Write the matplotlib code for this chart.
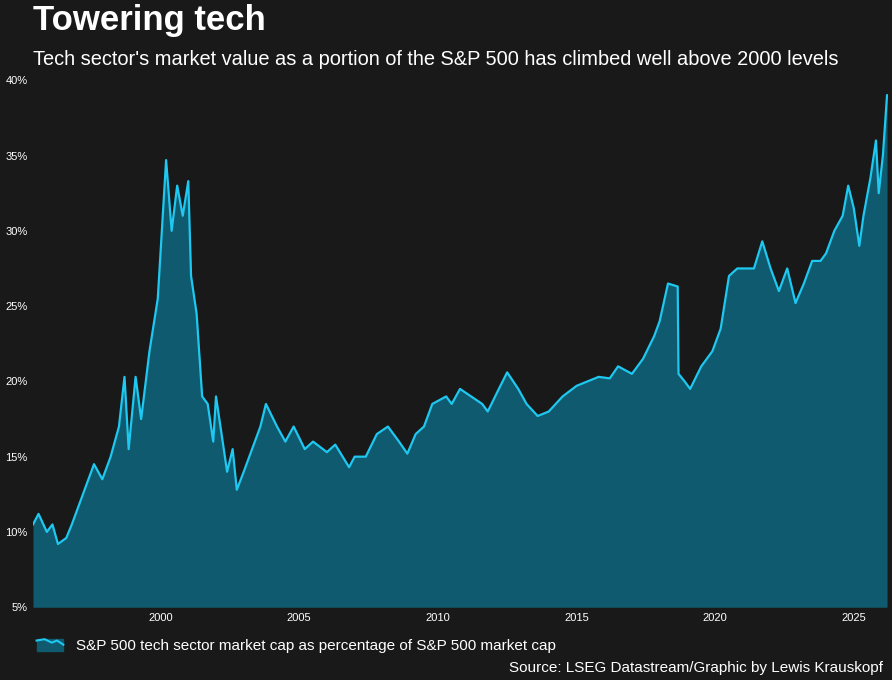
import matplotlib
matplotlib.use("Agg")
import matplotlib.pyplot as plt
from matplotlib.patches import Rectangle
from matplotlib.lines import Line2D

plt.rcParams["font.family"] = ["Liberation Sans", "DejaVu Sans"]

years = [1995.4, 1995.6, 1995.9, 1996.1, 1996.3, 1996.6, 1996.8, 1997.0, 1997.3, 1997.6, 1997.9,
         1998.2, 1998.5, 1998.7, 1998.85, 1999.1, 1999.3, 1999.6, 1999.9, 2000.2, 2000.4, 2000.6,
         2000.8, 2001.0, 2001.1, 2001.3, 2001.5, 2001.7, 2001.9, 2002.0, 2002.2, 2002.4, 2002.6,
         2002.75, 2003.0, 2003.3, 2003.6, 2003.8, 2004.2, 2004.5, 2004.8, 2005.2, 2005.5, 2006.0,
         2006.3, 2006.8, 2007.0, 2007.4, 2007.8, 2008.2, 2008.6, 2008.9, 2009.2, 2009.5, 2009.8,
         2010.3, 2010.5, 2010.8, 2011.2, 2011.6, 2011.8, 2012.2, 2012.5, 2012.9, 2013.2, 2013.6,
         2014.0, 2014.5, 2015.0, 2015.4, 2015.8, 2016.2, 2016.5, 2017.0, 2017.4, 2017.8, 2018.0,
         2018.3, 2018.65, 2018.68, 2018.9, 2019.1, 2019.5, 2019.9, 2020.2, 2020.5, 2020.8, 2021.1,
         2021.4, 2021.7, 2022.0, 2022.3, 2022.6, 2022.9, 2023.2, 2023.5, 2023.8, 2024.0, 2024.3,
         2024.6, 2024.8, 2025.0, 2025.2, 2025.35, 2025.6, 2025.8, 2025.9, 2026.05, 2026.2]
share = [10.5, 11.2, 10.0, 10.5, 9.2, 9.6, 10.5, 11.5, 13.0, 14.5, 13.5,
         15.0, 17.0, 20.3, 15.5, 20.3, 17.5, 22.0, 25.5, 34.7, 30.0, 33.0,
         31.0, 33.3, 27.0, 24.5, 19.0, 18.5, 16.0, 19.0, 16.5, 14.0, 15.5,
         12.8, 14.0, 15.5, 17.0, 18.5, 17.0, 16.0, 17.0, 15.5, 16.0, 15.3,
         15.8, 14.3, 15.0, 15.0, 16.5, 17.0, 16.0, 15.2, 16.5, 17.0, 18.5,
         19.0, 18.5, 19.5, 19.0, 18.5, 18.0, 19.5, 20.6, 19.5, 18.5, 17.7,
         18.0, 19.0, 19.7, 20.0, 20.3, 20.2, 21.0, 20.5, 21.5, 23.0, 24.0,
         26.5, 26.3, 20.5, 20.0, 19.5, 21.0, 22.0, 23.5, 27.0, 27.5, 27.5,
         27.5, 29.3, 27.5, 26.0, 27.5, 25.2, 26.5, 28.0, 28.0, 28.5, 30.0,
         31.0, 33.0, 31.5, 29.0, 31.0, 33.5, 36.0, 32.5, 35.0, 39.0]
yticks = [5, 10, 15, 20, 25, 30, 35, 40]
xticks = [2000, 2005, 2010, 2015, 2020, 2025]

bg = "#191919"
fill_c = "#0f5a6e"
line_c = "#1ec8f0"

fig = plt.figure(figsize=(8.92, 6.8), dpi=100, facecolor=bg)
ax = fig.add_axes([0.037, 0.107, 0.959, 0.775], facecolor=bg)
ax.fill_between(years, 5, share, color=fill_c, lw=0)
ax.plot(years, share, color=line_c, lw=1.6)
ax.set_xlim(1995.4, 2026.25)
ax.set_ylim(5, 40)
ax.set_yticks(yticks, labels=[f"{v}%" for v in yticks])
ax.set_xticks(xticks, labels=[str(v) for v in xticks])
ax.tick_params(colors="white", labelsize=8, length=0, pad=4)
for s in ax.spines.values():
    s.set_visible(False)

fig.text(0.037, 0.97, "Towering tech", color="white", fontsize=25, fontweight="bold", va="center")
fig.text(0.037, 0.913, "Tech sector's market value as a portion of the S&P 500 has climbed well above 2000 levels",
         color="white", fontsize=14.4, va="center")

fig.patches.append(Rectangle((0.041, 0.042), 0.03, 0.018, transform=fig.transFigure, color=fill_c))
fig.lines.append(Line2D([0.041, 0.05, 0.058, 0.064, 0.071], [0.058, 0.06, 0.055, 0.058, 0.052],
                        transform=fig.transFigure, color=line_c, lw=1.5))
fig.text(0.085, 0.05, "S&P 500 tech sector market cap as percentage of S&P 500 market cap",
         color="white", fontsize=11, va="center")
fig.text(0.99, 0.018, "Source: LSEG Datastream/Graphic by Lewis Krauskopf", color="white",
         fontsize=11, ha="right", va="center")

fig.savefig("out.png", dpi=100, facecolor=bg)
